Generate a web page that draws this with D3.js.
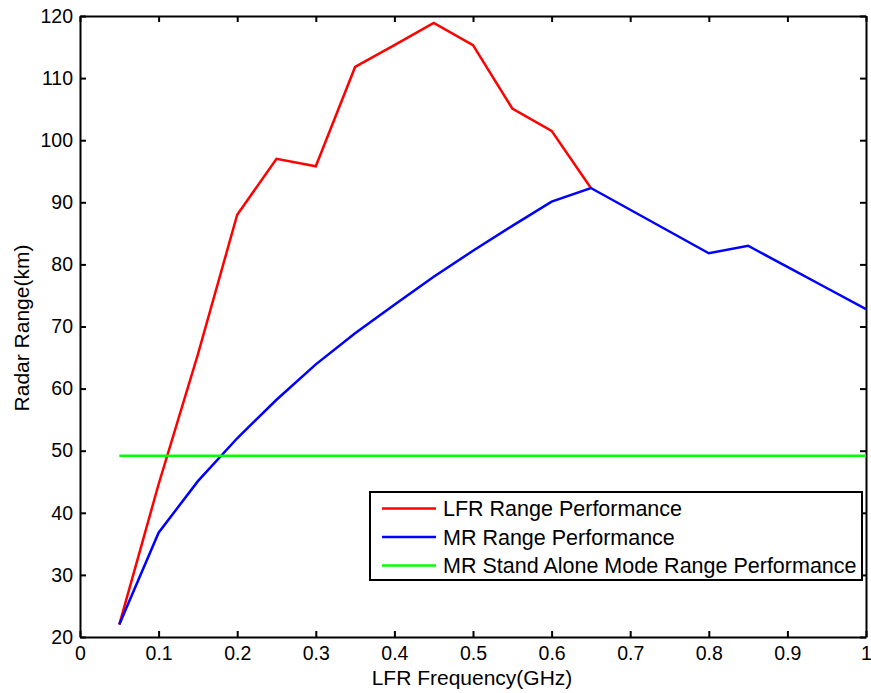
<!DOCTYPE html>
<html>
<head>
<meta charset="utf-8">
<script src="https://cdn.jsdelivr.net/npm/d3@7"></script>
<style>
  body { margin: 0; background: #fff; }
  svg text { font-family: "Liberation Sans", Arial, sans-serif; fill: #000; }
  .axis path, .axis line { stroke: #000; stroke-width: 2; }
</style>
</head>
<body>
<svg id="chart" width="871" height="693"></svg>
<script>
// data
var freqLFR = [0.05, 0.1, 0.15, 0.2, 0.25, 0.3, 0.35, 0.4, 0.45, 0.5, 0.55, 0.6, 0.65];
var rangeLFR = [22, 44.6, 65.5, 88, 97, 95.8, 111.8, 115.3, 118.9, 115.3, 105.1, 101.5, 92.3];

var freqMR = [0.05, 0.1, 0.15, 0.2, 0.25, 0.3, 0.35, 0.4, 0.45, 0.5, 0.55, 0.6, 0.65, 0.7, 0.75, 0.8, 0.85, 0.9, 0.95, 1.0];
var rangeMR = [22, 36.8, 45.1, 52, 58.2, 63.9, 68.9, 73.5, 78, 82.2, 86.2, 90.1, 92.3, 88.8, 85.3, 81.8, 83, 79.6, 76.2, 72.8];

var freqSA = [0.05, 1.0];
var rangeSA = [49.2, 49.2];

var xTicks = [0, 0.1, 0.2, 0.3, 0.4, 0.5, 0.6, 0.7, 0.8, 0.9, 1];
var yTicks = [20, 30, 40, 50, 60, 70, 80, 90, 100, 110, 120];

var seriesNames = ["LFR Range Performance", "MR Range Performance", "MR Stand Alone Mode Range Performance"];
var seriesColors = ["#ff0000", "#0000ff", "#00ff00"];

var svg = d3.select("#chart");
var mLeft = 80, mTop = 16, mRight = 866, mBottom = 637;
var w = mRight - mLeft, h = mBottom - mTop;

var x = d3.scaleLinear().domain([0, 1]).range([0, w]);
var y = d3.scaleLinear().domain([20, 120]).range([h, 0]);

var g = svg.append("g").attr("transform", "translate(" + mLeft + "," + mTop + ")");

var fmt = function(d) { return d === 0 ? "0" : d === 1 ? "1" : d3.format(".1f")(d); };

// axes, ticks pointing inward on all four sides
g.append("g").attr("class", "axis").attr("transform", "translate(0," + h + ")")
  .call(d3.axisBottom(x).tickValues(xTicks).tickSizeInner(-6).tickSizeOuter(0).tickPadding(9).tickFormat(fmt));
g.append("g").attr("class", "axis")
  .call(d3.axisTop(x).tickValues(xTicks).tickSizeInner(-6).tickSizeOuter(0).tickFormat(""));
g.append("g").attr("class", "axis")
  .call(d3.axisLeft(y).tickValues(yTicks).tickSizeInner(-6).tickSizeOuter(0).tickPadding(7));
g.append("g").attr("class", "axis").attr("transform", "translate(" + w + ",0)")
  .call(d3.axisRight(y).tickValues(yTicks).tickSizeInner(-6).tickSizeOuter(0).tickFormat(""));

g.selectAll(".axis text").style("font-size", "19.5px");

var line = d3.line().x(function(d) { return x(d[0]); }).y(function(d) { return y(d[1]); });

var allSeries = [
  d3.zip(freqLFR, rangeLFR),
  d3.zip(freqMR, rangeMR),
  d3.zip(freqSA, rangeSA)
];

allSeries.forEach(function(s, i) {
  g.append("path").datum(s)
    .attr("fill", "none")
    .attr("stroke", seriesColors[i])
    .attr("stroke-width", 2.5)
    .attr("d", line);
});

// axis titles
svg.append("text")
  .attr("x", mLeft + w / 2 - 1).attr("y", 685)
  .attr("text-anchor", "middle").style("font-size", "21px")
  .text("LFR Frequency(GHz)");
svg.append("text")
  .attr("transform", "translate(29," + 328 + ") rotate(-90)")
  .attr("text-anchor", "middle").style("font-size", "21px")
  .text("Radar Range(km)");

// legend
var lg = svg.append("g").attr("transform", "translate(370,492)");
lg.append("rect").attr("width", 492).attr("height", 88)
  .attr("fill", "#fff").attr("stroke", "#000").attr("stroke-width", 2);
seriesNames.forEach(function(name, i) {
  var yy = 16.5 + i * 28.5;
  lg.append("line").attr("x1", 12).attr("x2", 66).attr("y1", yy).attr("y2", yy)
    .attr("stroke", seriesColors[i]).attr("stroke-width", 2.5);
  lg.append("text").attr("x", 73).attr("y", yy + 7.5).style("font-size", "21.5px").text(name);
});
</script>
</body>
</html>
